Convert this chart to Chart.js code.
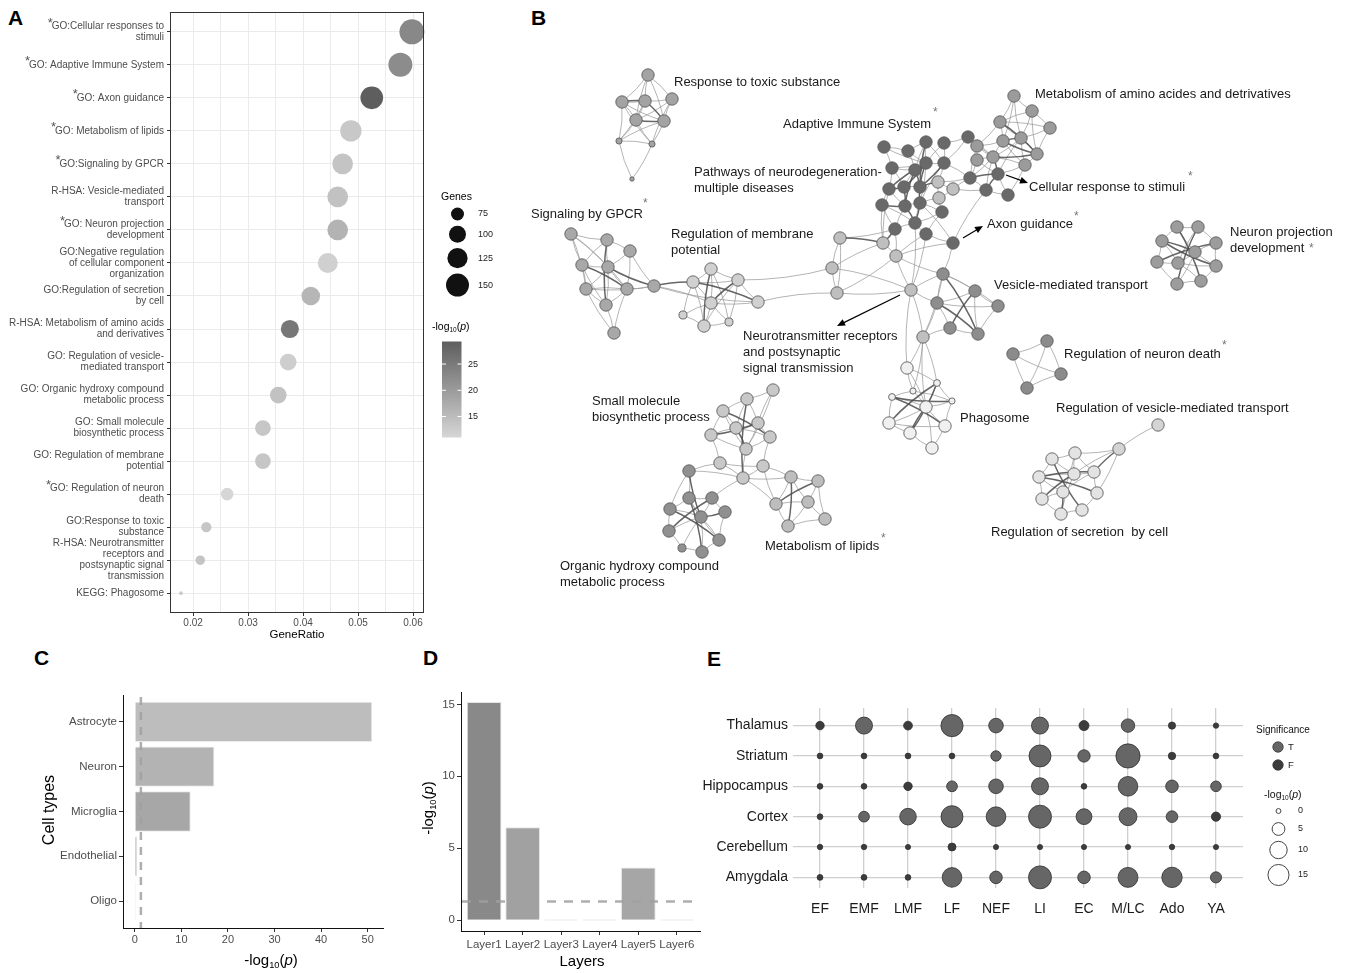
<!DOCTYPE html>
<html>
<head>
<meta charset="utf-8">
<script src="https://cdn.jsdelivr.net/npm/chart.js@4.4.1/dist/chart.umd.min.js"></script>
<style>
  html, body { margin: 0; padding: 0; background: #fff; }
  body { width: 1352px; height: 973px; position: relative; overflow: hidden; font-family: "Liberation Sans", Arial, sans-serif; }
  canvas { position: absolute; }
  .tag { position: absolute; font-weight: bold; font-size: 21px; line-height: 21px; color: #000; }
</style>
</head>
<body>
<div class="tag" style="left:8px;top:7px">A</div>
<div class="tag" style="left:531px;top:7px">B</div>
<div class="tag" style="left:34px;top:647px">C</div>
<div class="tag" style="left:423px;top:647px">D</div>
<div class="tag" style="left:707px;top:648px">E</div>

<canvas id="cA" width="520" height="650" style="left:0;top:0"></canvas>
<canvas id="cB" width="832" height="570" style="left:520px;top:40px"></canvas>
<canvas id="cC" width="400" height="323" style="left:0;top:650px"></canvas>
<canvas id="cD" width="310" height="323" style="left:400px;top:650px"></canvas>
<canvas id="cE" width="652" height="323" style="left:700px;top:650px"></canvas>

<script>
// ---------------- Panel A: enriched terms ----------------
const termLabels = [
  ['GO:Cellular responses to', 'stimuli'],
  ['GO: Adaptive Immune System'],
  ['GO: Axon guidance'],
  ['GO: Metabolism of lipids'],
  ['GO:Signaling by GPCR'],
  ['R-HSA: Vesicle-mediated', 'transport'],
  ['GO: Neuron projection', 'development'],
  ['GO:Negative regulation', 'of cellular component', 'organization'],
  ['GO:Regulation of secretion', 'by cell'],
  ['R-HSA: Metabolism of amino acids', 'and derivatives'],
  ['GO: Regulation of vesicle-', 'mediated transport'],
  ['GO: Organic hydroxy compound', 'metabolic process'],
  ['GO: Small molecule', 'biosynthetic process'],
  ['GO: Regulation of membrane', 'potential'],
  ['GO: Regulation of neuron', 'death'],
  ['GO:Response to toxic', 'substance'],
  ['R-HSA: Neurotransmitter', 'receptors and', 'postsynaptic signal', 'transmission'],
  ['KEGG: Phagosome']
];
const termStarred = [true, true, true, true, true, false, true, false, false, false, false, false, false, false, true, false, false, false];
const geneRatio = [0.0598, 0.0577, 0.0525, 0.0487, 0.0472, 0.0463, 0.0463, 0.0445, 0.0414, 0.0376, 0.0373, 0.0355, 0.0327, 0.0327, 0.0262, 0.0224, 0.0213, 0.0178];
const geneCount = [170, 160, 147, 135, 129, 129, 129, 123, 112, 108, 98, 98, 91, 91, 73, 62, 59, 43];
const termLogP = [22.9, 22.3, 29.3, 13.1, 13.7, 14.1, 16.3, 11.9, 15.9, 25.5, 12.2, 14.1, 13.4, 13.4, 11.0, 13.4, 13.7, 12.7];
const ratioGrid = [0.02, 0.025, 0.03, 0.035, 0.04, 0.045, 0.05, 0.055, 0.06];
const geneLegend = [75, 100, 125, 150];
const logPLegend = [15, 20, 25];

// ---------------- Panel C: cell types ----------------
const cellTypes = ['Astrocyte', 'Neuron', 'Microglia', 'Endothelial', 'Oligo'];
const cellLogP = [51.0, 17.1, 12.0, 0.5, 0.05];
const cellTicks = [0, 10, 20, 30, 40, 50];

// ---------------- Panel D: cortical layers ----------------
const layers = ['Layer1', 'Layer2', 'Layer3', 'Layer4', 'Layer5', 'Layer6'];
const layerLogP = [15.16, 6.46, 0, 0, 3.66, 0];
const layerTicks = [0, 5, 10, 15];
const sigCutoff = 1.3;

// ---------------- Panel E: brain regions x developmental stages ----------------
const regions = ['Thalamus', 'Striatum', 'Hippocampus', 'Cortex', 'Cerebellum', 'Amygdala'];
const stages = ['EF', 'EMF', 'LMF', 'LF', 'NEF', 'LI', 'EC', 'M/LC', 'Ado', 'YA'];
const thalamusLogP    = [1.7, 9.5, 1.9, 16.7, 6.8, 9.5, 2.7, 5.6, 1.0, 0.2];
const striatumLogP    = [0.3, 0.3, 0.3, 0.3, 3.0, 16.4, 4.6, 20.1, 1.1, 0.3];
const hippocampusLogP = [0.3, 0.3, 1.7, 3.3, 6.8, 9.5, 0.3, 12.9, 4.8, 3.2];
const cortexLogP      = [0.3, 3.3, 9.0, 16.4, 12.9, 18.0, 8.1, 10.7, 4.0, 2.2];
const cerebellumLogP  = [0.2, 0.2, 0.1, 1.4, 0.1, 0.1, 0.1, 0.1, 0.2, 0.1];
const amygdalaLogP    = [0.35, 0.35, 0.3, 12.9, 4.8, 18.0, 4.8, 13.4, 14.0, 3.6];
const thalamusSig    = 'FTFTTTFTFF';
const striatumSig    = 'FFFFTTTTFF';
const hippocampusSig = 'FFFTTTFTTT';
const cortexSig      = 'FTTTTTTTTF';
const cerebellumSig  = 'FFFFFFFFFF';
const amygdalaSig    = 'FFFTTTTTTT';
const regionLogP = [thalamusLogP, striatumLogP, hippocampusLogP, cortexLogP, cerebellumLogP, amygdalaLogP];
const regionSig = [thalamusSig, striatumSig, hippocampusSig, cortexSig, cerebellumSig, amygdalaSig];
const sizeLegend = [0, 5, 10, 15];

// ---------------- Panel B: term network (layout units) ----------------
// id, x, y, relative size ; id prefix gives the cluster
const netNodes = [
  ['t0',648,75,1],['t1',622,102,1],['t2',645,101,1],['t3',672,99,1],['t4',636,120,1],['t5',664,121,1],['t6',619,141,0.5],['t7',652,144,0.5],['t8',632,179,0.35],
  ['g0',571,234,1],['g1',607,240,1],['g2',630,251,1],['g3',582,265,1],['g4',608,267,1],['g5',586,289,1],['g6',627,289,1],['g7',606,305,1],['g8',614,333,1],['g9',654,286,1],
  ['m0',711,269,1],['m1',693,282,1],['m2',738,280,1],['m3',758,302,1],['m4',711,303,1],['m5',683,315,0.65],['m6',704,326,1],['m7',729,322,0.65],
  ['c0',840,238,1],['c1',832,268,1],['c2',837,293,1],['c3',883,243,1],['c4',896,256,1],['c5',911,290,1],['c6',923,337,1],
  ['d0',884,147,1],['d1',908,151,1],['d2',926,142,1],['d3',944,143,1],['d4',968,137,1],['d5',926,163,1],['d6',944,163,1],['d7',892,168,1],
  ['d8',915,170,1],['d9',889,189,1],['d10',904,187,1],['d11',920,187,1],['d12',882,205,1],['d13',905,206,1],['d14',920,203,1],['d15',942,212,1],
  ['d16',895,229,1],['d17',915,223,1],['d18',926,234,1],['d19',970,178,1],['d20',998,174,1],['d21',986,190,1],['d22',1008,195,1],['d23',953,243,1],
  ['w0',938,182,1],['w1',953,189,1],['w2',939,198,1],
  ['a0',1014,96,1],['a1',1032,111,1],['a2',1050,128,1],['a3',1000,122,1],['a4',1003,141,1],['a5',1021,138,1],['a6',1037,154,1],['a7',1025,165,1],['a8',977,146,1],['a9',993,157,1],['a10',977,160,1],
  ['v0',943,274,1],['v1',975,291,1],['v2',998,306,1],['v3',937,303,1],['v4',950,328,1],['v5',978,334,1],
  ['p0',907,368,1],['p1',937,383,0.55],['p2',913,391,0.5],['p3',892,397,0.55],['p4',952,401,0.5],['p5',926,407,1],['p6',889,423,1],['p7',945,426,1],['p8',910,433,1],['p9',932,448,1],
  ['n0',1177,227,1],['n1',1198,227,1],['n2',1162,241,1],['n3',1216,243,1],['n4',1195,252,1],['n5',1157,262,1],['n6',1178,263,1],['n7',1216,266,1],['n8',1177,284,1],['n9',1201,281,1],
  ['x0',1013,354,1],['x1',1047,341,1],['x2',1061,374,1],['x3',1027,388,1],
  ['r0',1158,425,1],['r1',1119,449,1],
  ['s0',1052,459,1],['s1',1075,453,1],['s2',1039,477,1],['s3',1074,474,1],['s4',1094,472,1],['s5',1063,492,1],['s6',1097,493,1],['s7',1042,499,1],['s8',1061,514,1],['s9',1082,510,1],
  ['b0',773,390,1],['b1',747,399,1],['b2',723,411,1],['b3',758,423,1],['b4',736,428,1],['b5',711,435,1],['b6',770,437,1],['b7',746,449,1],['b8',720,463,1],['b9',763,466,1],['b10',743,478,1],
  ['o0',689,471,1],['o1',689,498,1],['o2',712,498,1],['o3',670,509,1],['o4',701,517,1],['o5',725,512,1],['o6',669,531,1],['o7',719,540,1],['o8',682,548,0.65],['o9',702,552,1],
  ['q0',791,477,1],['q1',818,481,1],['q2',776,504,1],['q3',808,502,1],['q4',788,526,1],['q5',825,519,1]
];
const netEdges = (
  't0-t1 t0-t2 t0-t3 t0-t4 t0-t5 t1-t2 t1-t4 t1-t5 t1-t6 t2-t3 t2-t4 t3-t5 t3-t4 t3-t7 t4-t6 t4-t7 t5-t7 t5-t6 t6-t7 t6-t8 t7-t8 t1-t7 t2-t6 ' +
  'g0-g3 g0-g4 g0-g1 g0-g6 g1-g4 g1-g2 g1-g3 g2-g4 g2-g9 g2-g6 g3-g4 g3-g5 g3-g7 g4-g5 g4-g6 g4-g7 g5-g7 g5-g6 g5-g8 g6-g7 g6-g9 g7-g8 g6-g8 g0-g5 g5-g9 ' +
  'g9-m4 g9-m3 m0-m1 m0-m2 m0-m4 m1-m2 m1-m4 m1-m5 m1-m6 m2-m3 m2-m7 m2-m6 m3-m4 m4-m5 m4-m6 m4-m7 m5-m6 m6-m7 m0-m7 m2-c1 m3-c2 ' +
  'c0-c1 c0-c2 c1-c2 c1-c3 c2-c4 c3-c4 c4-c5 c1-c5 c2-c5 c5-c6 c5-p0 c3-d12 c4-d16 c4-d18 c5-d18 c3-d9 c6-v3 c6-v4 c6-v0 c6-p0 c4-v0 c5-v0 c5-v3 ' +
  'd23-v0 d23-c4 d23-d18 d23-d14 d23-d21 c0-d16 c6-p1 c5-d17 ' +
  'd0-d1 d0-d5 d0-d7 d1-d5 d1-d2 d2-d5 d2-d6 d3-d5 d3-d6 d3-d4 d4-d6 d5-d6 d5-d7 d7-d8 d7-d9 d8-d10 d10-d11 d9-d12 d11-d17 d12-d16 d13-d14 d13-d16 ' +
  'd15-d17 d15-d18 d16-d17 d17-d18 d6-w0 w0-w1 w1-w2 w0-w2 d14-w2 w2-d15 d1-d8 d2-d8 d7-d10 d21-d22 d19-d21 d20-d22 d19-w0 d19-w1 d20-a5 d20-a7 ' +
  'd21-a9 d22-a7 d4-a8 a8-a9 d19-a8 d19-a9 d4-a9 w1-d21 d6-d19 d19-a10 a10-a9 a10-d20 d14-d15 d9-d13 d12-d17 d6-d14 d5-d14 ' +
  'a0-a1 a0-a3 a0-a5 a1-a2 a1-a3 a1-a5 a1-a6 a2-a5 a2-a6 a3-a4 a3-a5 a4-a8 a4-a9 a5-a6 a5-a7 a6-a7 a7-a9 a0-a4 a2-a3 a8-a9 a4-a7 a3-a8 a9-a5 ' +
  'v0-v1 v0-v3 v0-v2 v1-v2 v1-v3 v1-v5 v2-v3 v2-v5 v3-v4 v4-v5 ' +
  'p0-p5 p0-p2 p0-p1 p1-p4 p1-p5 p2-p3 p2-p5 p3-p6 p3-p5 p4-p7 p5-p6 p5-p7 p5-p9 p6-p8 p7-p9 p8-p9 p2-p4 p6-p7 p4-p5 c6-p5 c6-p2 ' +
  'n0-n1 n1-n3 n3-n7 n7-n9 n9-n8 n8-n5 n5-n2 n2-n0 n0-n4 n4-n3 n4-n7 n6-n1 n6-n4 n4-n8 n5-n6 n6-n9 n6-n7 n2-n6 ' +
  'x0-x1 x1-x2 x2-x3 x3-x0 x0-x2 x1-x3 ' +
  'r0-r1 r1-s1 r1-s3 r1-s6 s0-s1 s0-s2 s1-s4 s2-s7 s7-s8 s8-s9 s9-s6 s6-s4 s0-s3 s1-s5 s3-s8 s5-s4 s3-s4 s7-s5 s2-s5 s2-s3 s1-s3 ' +
  'b0-b1 b0-b3 b0-b7 b1-b2 b1-b3 b1-b4 b2-b4 b2-b5 b3-b4 b3-b6 b3-b7 b4-b5 b4-b6 b5-b7 b5-b8 b6-b9 b6-b7 b7-b10 b8-b10 b8-b9 b9-b10 b2-b7 ' +
  'o0-o1 o0-o3 o0-b10 o1-o2 o1-o3 o1-o4 o2-o4 o2-o5 o2-b10 o3-o6 o3-o4 o4-o6 o4-o7 o4-o8 o4-o9 o5-o7 o6-o8 o7-o9 o8-o9 o1-o7 o0-b8 ' +
  'b10-q0 b9-q0 q0-q1 q0-q2 q0-q3 q1-q3 q1-q5 q2-q3 q2-q4 q3-q4 q3-q5 q4-q5 b9-q2 b10-q2'
).split(' ');
const netStrongEdges = (
  't2-t5 t4-t5 t1-t2 g1-g7 g3-g6 g4-g9 g9-m1 m0-m6 m1-m3 m2-m4 c0-c3 c3-d16 ' +
  'd5-d10 d5-d11 d5-d8 d8-d13 d10-d13 d11-d14 d13-d17 d9-d10 d6-d11 d12-d13 d14-d17 d5-d9 d11-w0 d20-d21 d19-d20 d20-a9 d8-d11 d2-d11 ' +
  'a3-a6 a4-a6 a4-a5 a9-a6 v3-v5 v1-v4 v0-v5 p1-p6 p3-p7 p5-p8 p1-p8 p3-p4 ' +
  'n0-n9 n2-n7 n5-n3 n1-n8 n2-n4 s0-s9 s2-s6 s3-s7 s5-s8 r1-s4 s2-s4 ' +
  'b1-b10 b2-b6 b5-b3 b4-b7 o0-o4 o3-o7 o2-o6 o1-o9 o4-o5 q0-q4 q1-q2'
).split(' ');

// ---------------- shared helpers ----------------
const FONT = '"Liberation Sans", Arial, sans-serif';
Chart.defaults.font.family = FONT;
Chart.defaults.animation = false;
Chart.defaults.responsive = false;
Chart.defaults.events = [];
Chart.defaults.layout.autoPadding = false;
Chart.defaults.plugins.legend.display = false;
Chart.defaults.plugins.tooltip.enabled = false;

const LOGP_TEXT = [['-log', 'n'], ['10', 's'], ['(', 'n'], ['p', 'i'], [')', 'n']];
function richText(ctx, parts, x, y, align, size, color, angle) {
  ctx.save();
  ctx.translate(x, y);
  if (angle) ctx.rotate(angle);
  const fontFor = p => (p[1] === 'i' ? 'italic ' : '') + (p[1] === 's' ? size * 0.62 : size) + 'px ' + FONT;
  let total = 0;
  parts.forEach(p => { ctx.font = fontFor(p); total += ctx.measureText(p[0]).width; });
  let cx = align === 'center' ? -total / 2 : (align === 'right' ? -total : 0);
  ctx.fillStyle = color;
  ctx.textAlign = 'left';
  ctx.textBaseline = 'middle';
  parts.forEach(p => {
    ctx.font = fontFor(p);
    ctx.fillText(p[0], cx, p[1] === 's' ? size * 0.32 : 0);
    cx += ctx.measureText(p[0]).width;
  });
  ctx.restore();
}
function fixedTicks(values) { return axis => { axis.ticks = values.map(v => ({ value: v })); }; }
function grayHex(g) { const h = Math.round(g).toString(16).padStart(2, '0'); return '#' + h + h + h; }

// ---------------- Panel A ----------------
const logPMin = Math.min(...termLogP), logPMax = Math.max(...termLogP);
function logPShade(v) { const t = (v - logPMin) / (logPMax - logPMin); return grayHex(214 - t * (214 - 94)); }
function geneRadius(g) { return Math.sqrt(Math.max(1.2 * (g - 40), 2)); }
const isMajorRatio = v => Math.abs(v * 100 - Math.round(v * 100)) < 1e-6;
const A_FONT = 10;

const panelAExtras = {
  id: 'panelAExtras',
  afterDraw(chart) {
    const { ctx, chartArea: ca, scales: { y } } = chart;
    ctx.save();
    ctx.strokeStyle = '#333';
    ctx.lineWidth = 1;
    ctx.strokeRect(Math.round(ca.left) + 0.5, Math.round(ca.top) + 0.5, Math.round(ca.width) - 1, Math.round(ca.height) - 1);

    // significance stars before the term labels
    const labelRight = ca.left - 6;
    termLabels.forEach((lines, i) => {
      if (!termStarred[i]) return;
      ctx.font = A_FONT + 'px ' + FONT;
      const w = ctx.measureText(lines[0]).width;
      const yc = y.getPixelForValue(i) - (lines.length - 1) * 11 / 2;
      ctx.font = '13px ' + FONT;
      ctx.fillStyle = '#555';
      ctx.textAlign = 'right';
      ctx.textBaseline = 'middle';
      ctx.fillText('*', labelRight - w + 1, yc - 3);
    });

    // axis title
    ctx.fillStyle = '#000';
    ctx.font = '11.5px ' + FONT;
    ctx.textAlign = 'center';
    ctx.textBaseline = 'middle';
    ctx.fillText('GeneRatio', (ca.left + ca.right) / 2, 635);

    // size legend
    ctx.textAlign = 'left';
    ctx.font = '10.5px ' + FONT;
    ctx.fillText('Genes', 441, 197);
    let cy = 214, prevR = 0;
    geneLegend.forEach((g, k) => {
      const r = geneRadius(g);
      if (k > 0) cy += prevR + r + 5.3;
      ctx.beginPath();
      ctx.arc(457.5, cy, r, 0, Math.PI * 2);
      ctx.fillStyle = '#111';
      ctx.fill();
      ctx.fillStyle = '#222';
      ctx.font = '9px ' + FONT;
      ctx.fillText(String(g), 478, cy);
      prevR = r;
    });

    // colour bar
    richText(ctx, LOGP_TEXT, 432, 327, 'left', 10.5, '#000');
    const barL = 442, barR = 461.5, barT = 341.5, barB = 437.5;
    const grad = ctx.createLinearGradient(0, barB, 0, barT);
    grad.addColorStop(0, logPShade(logPMin));
    grad.addColorStop(1, logPShade(logPMax));
    ctx.fillStyle = grad;
    ctx.fillRect(barL, barT, barR - barL, barB - barT);
    logPLegend.forEach(v => {
      const yy = barB - (v - logPMin) / (logPMax - logPMin) * (barB - barT);
      ctx.strokeStyle = '#fff';
      ctx.lineWidth = 1;
      ctx.beginPath();
      ctx.moveTo(barL, yy); ctx.lineTo(barL + 4, yy);
      ctx.moveTo(barR - 4, yy); ctx.lineTo(barR, yy);
      ctx.stroke();
      ctx.fillStyle = '#222';
      ctx.font = '9px ' + FONT;
      ctx.textAlign = 'left';
      ctx.fillText(String(v), 468, yy);
    });
    ctx.restore();
  }
};

new Chart(document.getElementById('cA'), {
  type: 'scatter',
  data: {
    datasets: [{
      data: geneRatio.map((g, i) => ({ x: g, y: i })),
      pointRadius: c => geneRadius(geneCount[c.dataIndex]),
      pointBackgroundColor: c => logPShade(termLogP[c.dataIndex]),
      pointBorderWidth: 0,
      clip: false
    }]
  },
  options: {
    layout: { padding: { left: 0, right: 96, top: 12, bottom: 0 } },
    scales: {
      x: {
        type: 'linear', min: 0.0158, max: 0.062,
        afterBuildTicks: fixedTicks(ratioGrid),
        afterFit: a => { a.height = 37; },
        ticks: { autoSkip: false, maxRotation: 0, padding: 1.5, color: '#4d4d4d', font: { size: 10 },
                 callback: v => isMajorRatio(v) ? v.toFixed(2) : '' },
        grid: { color: '#ebebeb', lineWidth: 1, tickLength: 3,
                tickColor: c => (c.tick && isMajorRatio(c.tick.value)) ? '#333' : 'rgba(0,0,0,0)' },
        border: { display: false }
      },
      y: {
        type: 'linear', reverse: true, min: -0.6, max: 17.6,
        afterBuildTicks: fixedTicks(termLabels.map((_, i) => i)),
        afterFit: a => { a.width = 170; },
        ticks: { autoSkip: false, padding: 3, color: '#4d4d4d', font: { size: A_FONT, lineHeight: 1.1 },
                 callback: v => termLabels[Math.round(v)] },
        grid: { color: '#ebebeb', lineWidth: 1, tickLength: 3, tickColor: '#333' },
        border: { display: false }
      }
    }
  },
  plugins: [panelAExtras]
});

// ---------------- Panel B ----------------
const groupOfPrefix = { t: 0, g: 1, m: 2, c: 3, d: 4, a: 5, v: 6, p: 7, n: 8, x: 9, s: 10, r: 11, b: 12, o: 13, q: 14, w: 15 };
const groupFill = ['#a3a3a3', '#a8a8a8', '#d0d0d0', '#bfbfbf', '#696969', '#9b9b9b', '#8d8d8d', '#f0f0f0',
                   '#9c9c9c', '#8b8b8b', '#e3e3e3', '#d4d4d4', '#c8c8c8', '#909090', '#bdbdbd', '#c0c0c0'];
const nodeIndex = {};
netNodes.forEach((n, i) => { nodeIndex[n[0]] = i; });
const groupOf = id => groupOfPrefix[id[0]];

const netLabels = [
  { lines: ['Response to toxic substance'], x: 674, y: 82 },
  { lines: ['Adaptive Immune System'], x: 783, y: 124, star: [936, 113] },
  { lines: ['Metabolism of amino acides and detrivatives'], x: 1035, y: 94 },
  { lines: ['Pathways of neurodegeneration-', 'multiple diseases'], x: 694, y: 172 },
  { lines: ['Cellular response to stimuli'], x: 1029, y: 187, star: [1191, 177] },
  { lines: ['Signaling by GPCR'], x: 531, y: 214, star: [646, 204] },
  { lines: ['Regulation of membrane', 'potential'], x: 671, y: 234 },
  { lines: ['Axon guidance'], x: 987, y: 224, star: [1077, 217] },
  { lines: ['Neuron projection', 'development'], x: 1230, y: 232, star: [1312, 249] },
  { lines: ['Vesicle-mediated transport'], x: 994, y: 285 },
  { lines: ['Neurotransmitter receptors', 'and postsynaptic', 'signal transmission'], x: 743, y: 336 },
  { lines: ['Regulation of neuron death'], x: 1064, y: 354, star: [1225, 346] },
  { lines: ['Small molecule', 'biosynthetic process'], x: 592, y: 401 },
  { lines: ['Regulation of vesicle-mediated transport'], x: 1056, y: 408 },
  { lines: ['Phagosome'], x: 960, y: 418 },
  { lines: ['Metabolism of lipids'], x: 765, y: 546, star: [884, 539] },
  { lines: ['Regulation of secretion  by cell'], x: 991, y: 532 },
  { lines: ['Organic hydroxy compound', 'metabolic process'], x: 560, y: 566 }
];
const netArrows = [
  [1006, 175, 1028, 183],
  [963, 238, 983, 226],
  [900, 295, 837, 326]
];

const netEdgePlugin = {
  id: 'netEdges',
  beforeDatasetsDraw(chart) {
    const { ctx, scales: { x, y } } = chart;
    const drawSet = (list, color, width) => {
      ctx.strokeStyle = color;
      ctx.lineWidth = width;
      list.forEach((e, k) => {
        const [a, b] = e.split('-');
        const na = netNodes[nodeIndex[a]], nb = netNodes[nodeIndex[b]];
        if (!na || !nb) return;
        const x1 = x.getPixelForValue(na[1]), y1 = y.getPixelForValue(na[2]);
        const x2 = x.getPixelForValue(nb[1]), y2 = y.getPixelForValue(nb[2]);
        const mx = (x1 + x2) / 2, my = (y1 + y2) / 2;
        const bend = (k % 2 ? 1 : -1) * 0.07;
        ctx.beginPath();
        ctx.moveTo(x1, y1);
        ctx.quadraticCurveTo(mx - (y2 - y1) * bend, my + (x2 - x1) * bend, x2, y2);
        ctx.stroke();
      });
    };
    ctx.save();
    ctx.lineCap = 'round';
    drawSet(netEdges, 'rgba(150,150,150,0.8)', 0.9);
    drawSet(netStrongEdges, 'rgba(75,75,75,0.85)', 1.5);
    ctx.restore();
  },
  afterDatasetsDraw(chart) {
    const { ctx, scales: { x, y } } = chart;
    ctx.save();
    ctx.textAlign = 'left';
    ctx.textBaseline = 'middle';
    netLabels.forEach(l => {
      ctx.font = '13px ' + FONT;
      ctx.fillStyle = '#1a1a1a';
      l.lines.forEach((t, k) => ctx.fillText(t, x.getPixelForValue(l.x), y.getPixelForValue(l.y + k * 16)));
      if (l.star) {
        ctx.font = '12px ' + FONT;
        ctx.fillStyle = '#777';
        ctx.fillText('*', x.getPixelForValue(l.star[0]) - 3, y.getPixelForValue(l.star[1]));
      }
    });
    ctx.strokeStyle = '#000';
    ctx.fillStyle = '#000';
    ctx.lineWidth = 1.2;
    netArrows.forEach(([ax1, ay1, ax2, ay2]) => {
      const x1 = x.getPixelForValue(ax1), y1 = y.getPixelForValue(ay1);
      const x2 = x.getPixelForValue(ax2), y2 = y.getPixelForValue(ay2);
      const ang = Math.atan2(y2 - y1, x2 - x1), L = 8, W = 3.5;
      ctx.beginPath();
      ctx.moveTo(x1, y1);
      ctx.lineTo(x2 - L * 0.6 * Math.cos(ang), y2 - L * 0.6 * Math.sin(ang));
      ctx.stroke();
      ctx.beginPath();
      ctx.moveTo(x2, y2);
      ctx.lineTo(x2 - L * Math.cos(ang) + W * Math.sin(ang), y2 - L * Math.sin(ang) - W * Math.cos(ang));
      ctx.lineTo(x2 - L * Math.cos(ang) - W * Math.sin(ang), y2 - L * Math.sin(ang) + W * Math.cos(ang));
      ctx.closePath();
      ctx.fill();
    });
    ctx.restore();
  }
};

new Chart(document.getElementById('cB'), {
  type: 'scatter',
  data: {
    datasets: [{
      data: netNodes.map(n => ({ x: n[1], y: n[2] })),
      pointRadius: c => 6.2 * netNodes[c.dataIndex][3],
      pointBackgroundColor: c => groupFill[groupOf(netNodes[c.dataIndex][0])],
      pointBorderColor: '#5e5e5e',
      pointBorderWidth: 0.9,
      clip: false
    }]
  },
  options: {
    layout: { padding: 0, autoPadding: false },
    scales: {
      x: { type: 'linear', display: false, min: 520, max: 1352 },
      y: { type: 'linear', display: false, min: 40, max: 610, reverse: true }
    }
  },
  plugins: [netEdgePlugin]
});

// ---------------- Panel C ----------------
const panelCExtras = {
  id: 'panelCExtras',
  afterDatasetsDraw(chart) {
    const { ctx, chartArea: ca, scales: { x } } = chart;
    const px = x.getPixelForValue(sigCutoff);
    ctx.save();
    ctx.strokeStyle = 'rgba(160,160,160,0.85)';
    ctx.lineWidth = 2.5;
    ctx.setLineDash([8, 7]);
    ctx.beginPath();
    ctx.moveTo(px, ca.top + 2);
    ctx.lineTo(px, ca.bottom);
    ctx.stroke();
    ctx.restore();
  },
  afterDraw(chart) {
    const { ctx } = chart;
    richText(ctx, LOGP_TEXT, 271, 311, 'center', 15, '#000');
    ctx.save();
    ctx.translate(50, 160);
    ctx.rotate(-Math.PI / 2);
    ctx.font = '16px ' + FONT;
    ctx.fillStyle = '#000';
    ctx.textAlign = 'center';
    ctx.textBaseline = 'middle';
    ctx.fillText('Cell types', 0, 0);
    ctx.restore();
  }
};

new Chart(document.getElementById('cC'), {
  type: 'bar',
  data: {
    datasets: [{
      data: cellLogP.map((v, i) => ({ x: v, y: i })),
      backgroundColor: ['#bdbdbd', '#b3b3b3', '#a7a7a7', '#a1a1a1', '#c4c4c4'],
      borderColor: '#ebebeb',
      borderWidth: 1,
      minBarLength: 1,
      barPercentage: 0.9,
      categoryPercentage: 1
    }]
  },
  options: {
    indexAxis: 'y',
    layout: { padding: { left: 0, right: 17, top: 45, bottom: 0 } },
    scales: {
      x: {
        type: 'linear', min: -2.54, max: 53.3, offset: false,
        afterBuildTicks: fixedTicks(cellTicks),
        afterFit: a => { a.height = 45; },
        ticks: { maxRotation: 0, padding: 1, color: '#4d4d4d', font: { size: 11 } },
        grid: { drawOnChartArea: false, offset: false, tickLength: 4, tickColor: '#333' },
        border: { display: true, color: '#111', width: 1 }
      },
      y: {
        type: 'linear', reverse: true, min: -0.6, max: 4.6, offset: false,
        afterBuildTicks: fixedTicks(cellTypes.map((_, i) => i)),
        afterFit: a => { a.width = 123; },
        ticks: { autoSkip: false, padding: 2, color: '#4d4d4d', font: { size: 11.5 }, callback: v => cellTypes[Math.round(v)] },
        grid: { drawOnChartArea: false, offset: false, tickLength: 4, tickColor: '#333' },
        border: { display: true, color: '#111', width: 1 }
      }
    }
  },
  plugins: [panelCExtras]
});

// ---------------- Panel D ----------------
const panelDExtras = {
  id: 'panelDExtras',
  afterDatasetsDraw(chart) {
    const { ctx, chartArea: ca, scales: { y } } = chart;
    const py = y.getPixelForValue(sigCutoff);
    ctx.save();
    ctx.strokeStyle = 'rgba(160,160,160,0.85)';
    ctx.lineWidth = 2.5;
    ctx.setLineDash([9, 8]);
    ctx.beginPath();
    ctx.moveTo(ca.left + 1, py);
    ctx.lineTo(ca.right, py);
    ctx.stroke();
    ctx.restore();
  },
  afterDraw(chart) {
    const { ctx } = chart;
    ctx.save();
    ctx.font = '15px ' + FONT;
    ctx.fillStyle = '#000';
    ctx.textAlign = 'center';
    ctx.textBaseline = 'middle';
    ctx.fillText('Layers', 182, 312);
    ctx.restore();
    richText(ctx, LOGP_TEXT, 29, 158, 'center', 15, '#000', -Math.PI / 2);
  }
};

new Chart(document.getElementById('cD'), {
  type: 'bar',
  data: {
    datasets: [{
      data: layerLogP.map((v, i) => ({ x: i, y: v })),
      backgroundColor: layerLogP.map((v, i) => v === 0 ? '#d2d2d2' : ['#898989', '#a1a1a1', '', '', '#a6a6a6', ''][i]),
      borderColor: layerLogP.map(v => v === 0 ? 'rgba(0,0,0,0)' : '#e6e6e6'),
      borderWidth: 1,
      minBarLength: 1.5,
      barPercentage: 0.9,
      categoryPercentage: 1
    }]
  },
  options: {
    layout: { padding: { left: 0, right: 10, top: 42, bottom: 0 } },
    scales: {
      x: {
        type: 'linear', min: -0.6, max: 5.6, offset: false,
        afterBuildTicks: fixedTicks(layers.map((_, i) => i)),
        afterFit: a => { a.height = 42; },
        ticks: { autoSkip: false, maxRotation: 0, padding: 2.5, color: '#4d4d4d', font: { size: 11.5 }, callback: v => layers[Math.round(v)] },
        grid: { drawOnChartArea: false, offset: false, tickLength: 4, tickColor: '#333' },
        border: { display: true, color: '#111', width: 1 }
      },
      y: {
        type: 'linear', min: -0.755, max: 15.86, offset: false,
        afterBuildTicks: fixedTicks(layerTicks),
        afterFit: a => { a.width = 61; },
        ticks: { padding: 2, color: '#4d4d4d', font: { size: 11.5 } },
        grid: { drawOnChartArea: false, offset: false, tickLength: 4, tickColor: '#333' },
        border: { display: true, color: '#111', width: 1 }
      }
    }
  },
  plugins: [panelDExtras]
});

// ---------------- Panel E ----------------
function stageRadius(v) { return Math.sqrt(6 + 7 * v); }
const stagePoints = [];
regions.forEach((r, i) => stages.forEach((s, j) => stagePoints.push({ x: j, y: i, v: regionLogP[i][j], sig: regionSig[i][j] })));

const panelEExtras = {
  id: 'panelEExtras',
  afterDraw(chart) {
    const { ctx } = chart;
    ctx.save();
    ctx.textAlign = 'left';
    ctx.textBaseline = 'middle';
    ctx.fillStyle = '#111';
    ctx.font = '10px ' + FONT;
    ctx.fillText('Significance', 556, 80);
    [['T', '#666666', 97], ['F', '#3c3c3c', 115]].forEach(([lab, col, yy]) => {
      ctx.beginPath();
      ctx.arc(578, yy, 5.2, 0, Math.PI * 2);
      ctx.fillStyle = col;
      ctx.fill();
      ctx.strokeStyle = '#333';
      ctx.lineWidth = 0.8;
      ctx.stroke();
      ctx.fillStyle = '#222';
      ctx.font = '9.5px ' + FONT;
      ctx.fillText(lab, 588, yy);
    });
    richText(ctx, LOGP_TEXT, 564, 145, 'left', 10.5, '#111');
    const keyY = [161, 179, 200, 225];
    sizeLegend.forEach((v, k) => {
      ctx.beginPath();
      ctx.arc(578.5, keyY[k], stageRadius(v), 0, Math.PI * 2);
      ctx.fillStyle = '#fff';
      ctx.fill();
      ctx.strokeStyle = '#444';
      ctx.lineWidth = 1;
      ctx.stroke();
      ctx.fillStyle = '#222';
      ctx.font = '9px ' + FONT;
      ctx.fillText(String(v), 598, keyY[k]);
    });
    ctx.restore();
  }
};

new Chart(document.getElementById('cE'), {
  type: 'scatter',
  data: {
    datasets: [{
      data: stagePoints,
      pointRadius: c => stageRadius(stagePoints[c.dataIndex].v),
      pointBackgroundColor: c => stagePoints[c.dataIndex].sig === 'T' ? '#666666' : '#3c3c3c',
      pointBorderColor: '#2e2e2e',
      pointBorderWidth: 0.8,
      clip: false
    }]
  },
  options: {
    layout: { padding: { left: 0, right: 109, top: 58, bottom: 0 } },
    scales: {
      x: {
        type: 'linear', min: -0.614, max: 9.614,
        afterBuildTicks: fixedTicks(stages.map((_, i) => i)),
        afterFit: a => { a.height = 85; },
        ticks: { autoSkip: false, maxRotation: 0, padding: 13, color: '#1a1a1a', font: { size: 14 }, callback: v => stages[Math.round(v)] },
        grid: { color: '#cfcfcf', lineWidth: 1.3, drawTicks: false },
        border: { display: false }
      },
      y: {
        type: 'linear', reverse: true, min: -0.58, max: 5.35,
        afterBuildTicks: fixedTicks(regions.map((_, i) => i)),
        afterFit: a => { a.width = 93; },
        ticks: { autoSkip: false, padding: 5, color: '#1a1a1a', font: { size: 14 }, callback: v => regions[Math.round(v)] },
        grid: { color: '#cfcfcf', lineWidth: 1.3, drawTicks: false },
        border: { display: false }
      }
    }
  },
  plugins: [panelEExtras]
});
</script>
</body>
</html>
